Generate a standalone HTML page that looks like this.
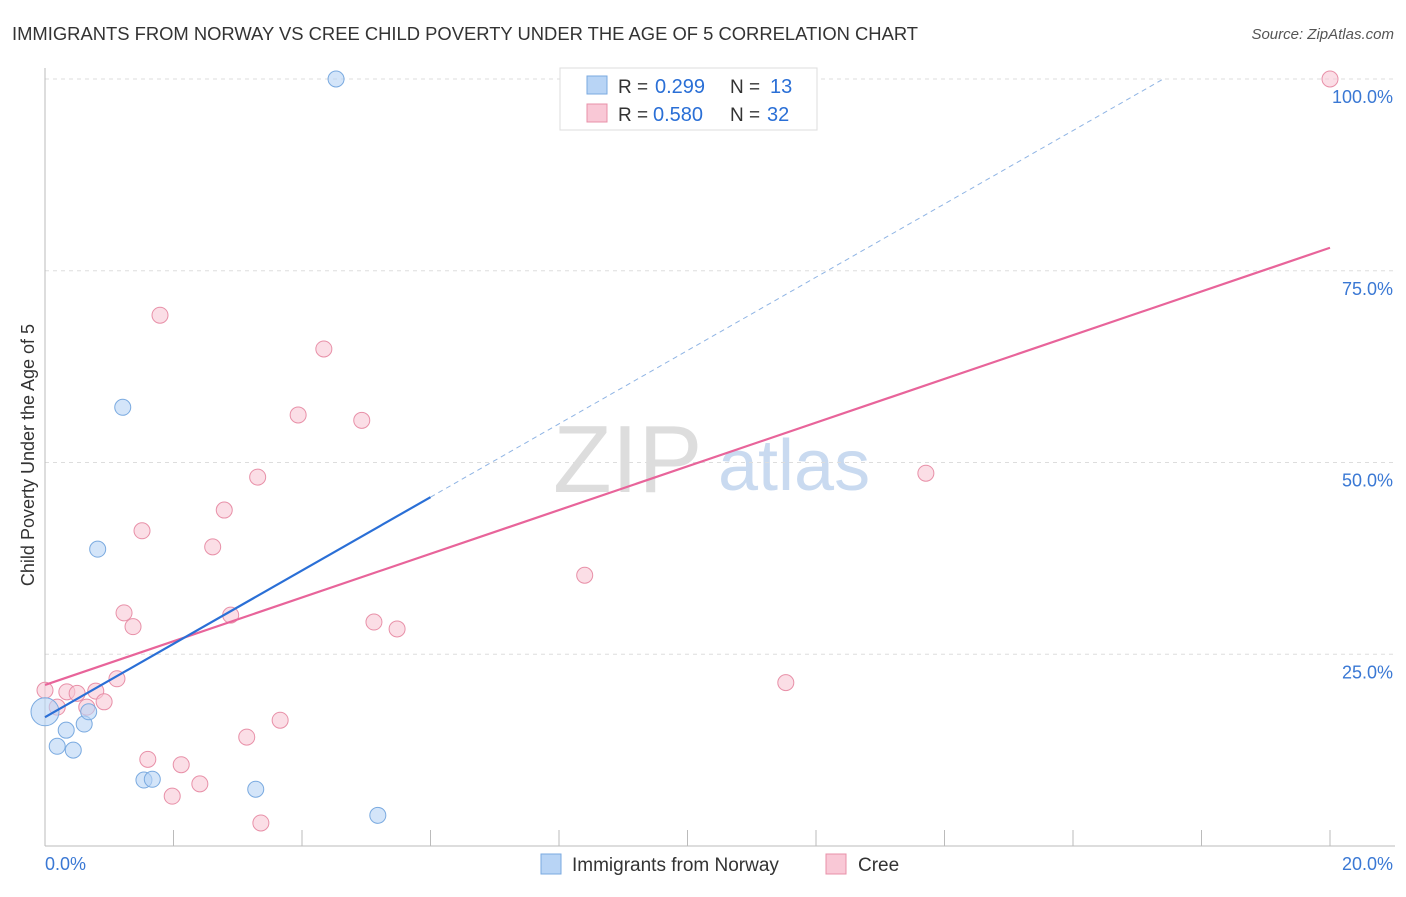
<!DOCTYPE html>
<html><head><meta charset="utf-8"><style>
body{margin:0;background:#fff;font-family:"Liberation Sans",sans-serif;}
svg text{font-family:"Liberation Sans",sans-serif;}
</style></head><body>
<svg id="chart" width="1406" height="892" xmlns="http://www.w3.org/2000/svg">
<text x="12" y="40" font-size="18.4" fill="#333">IMMIGRANTS FROM NORWAY VS CREE CHILD POVERTY UNDER THE AGE OF 5 CORRELATION CHART</text>
<text x="1394" y="39" font-size="15" fill="#555" text-anchor="end" font-style="italic">Source: ZipAtlas.com</text>
<text x="553" y="492" font-size="96" fill="#ddd" font-family="Liberation Serif">ZIP</text>
<text x="718" y="490" font-size="72" fill="#c9daf0">atlas</text>
<text transform="translate(34,455) rotate(-90)" font-size="18" fill="#333" text-anchor="middle">Child Poverty Under the Age of 5</text>
<g id="grid"></g><g id="marks"></g>
<g>
<rect x="560" y="68" width="257" height="62" fill="#fff" stroke="#ddd"/>
<rect x="587" y="76" width="20" height="18" fill="#b8d4f5" stroke="#7aaae0"/>
<rect x="587" y="104" width="20" height="18" fill="#f9c8d6" stroke="#e890a8"/>
<text x="618" y="93" font-size="19" fill="#333">R =</text>
<text x="655" y="93" font-size="20" fill="#2a6fd6">0.299</text>
<text x="730" y="93" font-size="19" fill="#333">N =</text>
<text x="770" y="93" font-size="20" fill="#2a6fd6">13</text>
<text x="618" y="121" font-size="19" fill="#333">R =</text>
<text x="653" y="121" font-size="20" fill="#2a6fd6">0.580</text>
<text x="730" y="121" font-size="19" fill="#333">N =</text>
<text x="767" y="121" font-size="20" fill="#2a6fd6">32</text>
</g>
<g>
<rect x="541" y="854" width="20" height="20" fill="#b8d4f5" stroke="#7aaae0"/>
<text x="572" y="871" font-size="19" fill="#333">Immigrants from Norway</text>
<rect x="826" y="854" width="20" height="20" fill="#f9c8d6" stroke="#e890a8"/>
<text x="858" y="871" font-size="19" fill="#333">Cree</text>
</g>
</svg>
<script>
const blueX=[0,0.19,0.33,0.44,0.61,0.68,0.82,1.21,1.54,1.67,3.28,4.53,5.18];
const blueY=[17.5,13.0,15.1,12.5,15.9,17.5,38.7,57.2,8.6,8.7,7.4,100,4.0];
const pinkX=[0,0.19,0.34,0.50,0.65,0.79,0.92,1.12,1.23,1.37,1.51,1.60,1.79,1.98,2.12,2.41,2.61,2.79,2.89,3.31,3.14,3.36,3.66,3.94,4.34,4.93,5.12,5.48,8.40,11.53,13.71,20];
const pinkY=[20.3,18.1,20.1,19.9,18.1,20.2,18.8,21.8,30.4,28.6,41.1,11.3,69.2,6.5,10.6,8.1,39.0,43.8,30.1,48.1,14.2,3.0,16.4,56.2,64.8,55.5,29.2,28.3,35.3,21.3,48.6,100];
const blueTrend=[16.8,4.78];
const pinkTrend=[21.0,2.85];
const yTicks=[25,50,75,100];
const xTicks=[0,2,4,6,8,10,12,14,16,18,20];
const NS="http://www.w3.org/2000/svg";
const sx=v=>45+v*(1285/20), sy=v=>846-v*7.67;
function mk(tag,attrs,parent){const e=document.createElementNS(NS,tag);for(const k in attrs)e.setAttribute(k,attrs[k]);parent.appendChild(e);return e;}
const grid=document.getElementById('grid'), marks=document.getElementById('marks');
yTicks.forEach(t=>{
 const l=mk('line',{x1:45,x2:1395,y1:sy(t),y2:sy(t),stroke:'#ddd','stroke-dasharray':'4,4'},grid);
 
 
 const tx=mk('text',{x:1393,y:sy(t)+24,'font-size':18,fill:'#3a78d4','text-anchor':'end'},grid);
 tx.textContent=t.toFixed(1)+'%';
 
 
});
xTicks.forEach(t=>{
 const l=mk('line',{x1:sx(t),x2:sx(t),y1:830,y2:846,stroke:'#bbb'},grid);
 
 
});
[[0,'0.0%',45,'start'],[20,'20.0%',1393,'end']].forEach(a=>{
 const tx=mk('text',{x:a[2],y:870,'font-size':18,fill:'#3a78d4','text-anchor':a[3]},grid);
 tx.textContent=a[1];
 
 
});
const ax=mk('line',{x1:45,x2:45,y1:68,y2:846,stroke:'#bbb'},grid);


const bx=mk('line',{x1:45,x2:1395,y1:846,y2:846,stroke:'#bbb'},grid);


pinkX.forEach((x,i)=>{
 const c=mk('circle',{cx:sx(x),cy:sy(pinkY[i]),r:8,fill:'#f9c8d6','fill-opacity':0.6,stroke:'#e890a8','stroke-width':1},marks);
 
 
});
blueX.forEach((x,i)=>{
 const c=mk('circle',{cx:sx(x),cy:sy(blueY[i]),r:i===0?14:8,fill:'#b8d4f5','fill-opacity':0.6,stroke:'#7aaae0','stroke-width':1},marks);
 
 
});
const pl=mk('line',{x1:sx(0),y1:sy(pinkTrend[0]),x2:sx(20),y2:sy(pinkTrend[0]+pinkTrend[1]*20),stroke:'#e8649a','stroke-width':2.2},marks);


const xEnd=(100-blueTrend[0])/blueTrend[1];
const bd=mk('line',{x1:sx(6),y1:sy(blueTrend[0]+blueTrend[1]*6),x2:sx(xEnd),y2:sy(100),stroke:'#8fb4e4','stroke-width':1,'stroke-dasharray':'5,4'},marks);


const bl=mk('line',{x1:sx(0),y1:sy(blueTrend[0]),x2:sx(6),y2:sy(blueTrend[0]+blueTrend[1]*6),stroke:'#2a6fd6','stroke-width':2.2},marks);


</script>
</body></html>
